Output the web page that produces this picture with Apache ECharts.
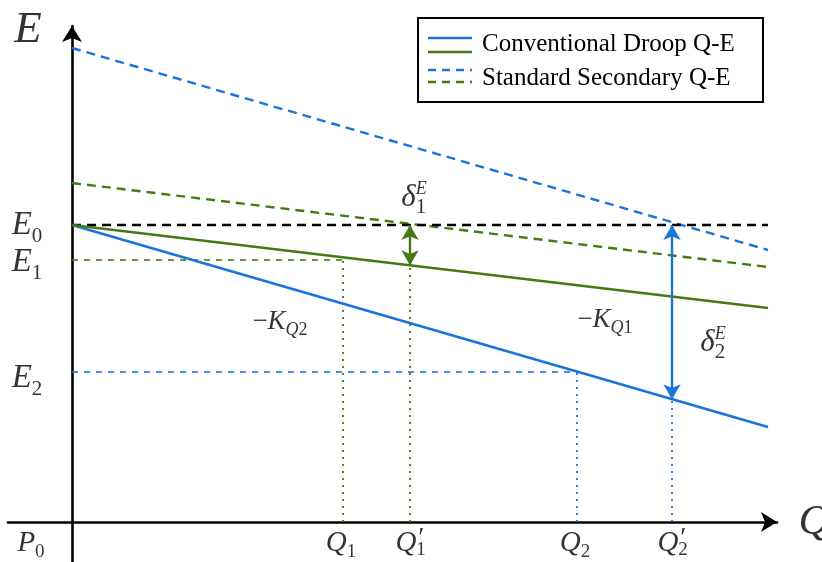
<!DOCTYPE html>
<html><head><meta charset="utf-8">
<script src="https://cdn.jsdelivr.net/npm/echarts@6/dist/echarts.min.js"></script>
<style>html,body{margin:0;padding:0;background:#fff}#c{width:822px;height:562px}</style>
</head><body><div id="c"></div>
<script>
// ---------- data (schematic units) ----------
const droopBlue  = [[0, 297], [696, 95]];
const droopGreen = [[0, 297], [696, 214]];
const secBlue    = [[0, 474], [696, 272]];
const secGreen   = [[0, 339], [696, 255]];
const e0Line     = [[0, 297], [696, 297]];
const eLevels    = [297, 262, 150];          // E0, E1, E2
const eSubs      = ['0', '1', '2'];
const qValues    = [271, 338, 505, 600];     // Q1, Q1', Q2, Q2'
const qSubs      = ['1', '1', '2', '2'];
const qPrime     = [false, true, false, true];
const legendNames = ['Conventional Droop Q-E', 'Standard Secondary Q-E'];

// ---------- helpers ----------
const BLUE = '#1c74d9', GREEN = '#437a13';
const SERIF = "'Liberation Serif', 'DejaVu Serif', serif";
function yOn(line, x) {
  const [a, b] = line;
  return a[1] + (b[1] - a[1]) * (x - a[0]) / (b[0] - a[0]);
}
function mk(F, f) {
  const L = Math.round(1.04 * F + 0.4 * f);
  return {
    m:   {fontFamily: SERIF, fontStyle: 'italic', fontSize: F, lineHeight: L, color: '#000'},
    r:   {fontFamily: SERIF, fontSize: F, lineHeight: L, color: '#000'},
    sb:  {fontFamily: SERIF, fontSize: f, lineHeight: f, verticalAlign: 'bottom', color: '#000'},
    sbi: {fontFamily: SERIF, fontStyle: 'italic', fontSize: f, lineHeight: f, verticalAlign: 'bottom', color: '#000'},
    sp:  {fontFamily: SERIF, fontStyle: 'italic', fontSize: f, lineHeight: f, verticalAlign: 'top', padding: [2, 0, 0, 0], color: '#000'},
    d:   {fontFamily: SERIF, fontSize: f, lineHeight: f, color: '#000'}
  };
}
function lab(x, y, fmt, F, f, off) {
  return {value: [x, y], label: {show: true, position: 'inside', formatter: fmt, rich: mk(F, f), offset: off || [0, 0]}};
}

// guide lines derived from the data
const q1 = qValues[0], q1p = qValues[1], q2 = qValues[2], q2p = qValues[3];
const e1Line  = [[0, eLevels[1]], [q1, eLevels[1]]];
const e2Line  = [[0, eLevels[2]], [q2, eLevels[2]]];
const q1Line  = [[q1, 0], [q1, eLevels[1]]];
const q1pLine = [[q1p, 0], [q1p, yOn(droopGreen, q1p)]];
const q2Line  = [[q2, 0], [q2, eLevels[2]]];
const q2pLine = [[q2p, 0], [q2p, yOn(droopBlue, q2p)]];

// labels
const labels = [];
labels.push(lab(-44, 492, '{m|E}', 45, 26));
labels.push(lab(742, -1, '{m|Q}', 43, 26));
const eOff = [[0, 0], [0, 2], [0, 6]];
eLevels.forEach((e, i) => labels.push(lab(-45, e, '{m|E}{sb|' + eSubs[i] + '}', 33, 21, eOff[i])));
labels.push(lab(-41, -21, '{m|P}{sb|0}', 29, 19));
qValues.forEach((q, i) => {
  if (qPrime[i]) {
    labels.push(lab(q, -21, '{m|Q}{sp|′}', 29, 28, [-1, 0]));
    labels.push(lab(q, -21, '{d|' + qSubs[i] + '}', 29, 19, [11, 7]));
  } else {
    labels.push(lab(q, -21, '{m|Q}{sb|' + qSubs[i] + '}', 29, 19, [-2, 0]));
  }
});
labels.push(lab(208, 200, '{r|−}{m|K}{sbi|Q}{sb|2}', 27, 18));
labels.push(lab(533, 202, '{r|−}{m|K}{sbi|Q}{sb|1}', 27, 18));
labels.push(lab(342, 324, '{m|δ}{sp|E}', 31, 18));
labels.push(lab(342, 324, '{d|1}', 31, 21, [7, 9]));
labels.push(lab(641, 179, '{m|δ}{sp|E}', 31, 18));
labels.push(lab(641, 179, '{d|2}', 31, 21, [7, 9]));

function lineSeries(name, data, color, width, type) {
  return {name, type: 'line', data, symbol: 'none', silent: true, animation: false,
    lineStyle: {color, width, type: type || 'solid'}, z: 3};
}
function arrowSeries(data, color) {
  return {type: 'line', data: [], silent: true, animation: false,
    markLine: {silent: true, animation: false, symbol: ['arrow', 'arrow'], symbolSize: [13, 15],
      label: {show: false}, lineStyle: {color, width: 2.4, type: 'solid'},
      data: [[{coord: data[0]}, {coord: data[1]}]]}};
}

const option = {
  backgroundColor: '#fff',
  animation: false,
  grid: {left: 8, top: 26, width: 769, height: 536},
  xAxis: {type: 'value', min: -64, max: 705, splitLine: {show: false}, axisTick: {show: false}, axisLabel: {show: false},
    axisLine: {onZero: true, symbol: ['none', 'arrow'], symbolSize: [15, 16], lineStyle: {color: '#000', width: 2.6}}},
  yAxis: {type: 'value', min: -40, max: 496, splitLine: {show: false}, axisTick: {show: false}, axisLabel: {show: false},
    axisLine: {onZero: true, symbol: ['none', 'arrow'], symbolSize: [15, 16], lineStyle: {color: '#000', width: 2.6}}},
  series: [
    lineSeries('Standard Secondary Q-E (blue)', secBlue, BLUE, 2.4, [9, 6]),
    lineSeries('Standard Secondary Q-E (green)', secGreen, GREEN, 2.4, [9, 6]),
    lineSeries('E0', e0Line, '#000', 2.4, [9, 6]),
    lineSeries('E1', e1Line, GREEN, 1.6, [6, 6]),
    lineSeries('E2', e2Line, BLUE, 1.6, [6, 6]),
    lineSeries('Q1', q1Line, GREEN, 1.8, [2, 5]),
    lineSeries("Q1'", q1pLine, GREEN, 1.8, [2, 5]),
    lineSeries('Q2', q2Line, BLUE, 1.8, [2, 5]),
    lineSeries("Q2'", q2pLine, BLUE, 1.8, [2, 5]),
    lineSeries('Conventional Droop Q-E (blue)', droopBlue, BLUE, 2.6),
    lineSeries('Conventional Droop Q-E (green)', droopGreen, GREEN, 2.6),
    arrowSeries([[q1p, eLevels[0]], [q1p, yOn(droopGreen, q1p)]], GREEN),
    arrowSeries([[q2p, eLevels[0]], [q2p, yOn(droopBlue, q2p)]], BLUE),
    {type: 'scatter', data: labels, symbolSize: 1, itemStyle: {color: 'rgba(0,0,0,0)'}, clip: false, silent: true, z: 10}
  ],
  graphic: [
    {type: 'rect', z: 100, shape: {x: 418, y: 18, width: 345, height: 84}, style: {fill: '#fff', stroke: '#000', lineWidth: 2}},
    {type: 'line', z: 101, shape: {x1: 428, y1: 38, x2: 472, y2: 38}, style: {stroke: BLUE, lineWidth: 2.5}},
    {type: 'line', z: 101, shape: {x1: 428, y1: 52, x2: 472, y2: 52}, style: {stroke: GREEN, lineWidth: 2.5}},
    {type: 'line', z: 101, shape: {x1: 428, y1: 70, x2: 472, y2: 70}, style: {stroke: BLUE, lineWidth: 2.3, lineDash: [8, 6]}},
    {type: 'line', z: 101, shape: {x1: 428, y1: 82, x2: 472, y2: 82}, style: {stroke: GREEN, lineWidth: 2.3, lineDash: [8, 6]}},
    {type: 'text', z: 101, x: 482, y: 44, style: {text: legendNames[0], font: "25px 'Liberation Serif', serif", fill: '#000', verticalAlign: 'middle'}},
    {type: 'text', z: 101, x: 482, y: 78, style: {text: legendNames[1], font: "25px 'Liberation Serif', serif", fill: '#000', verticalAlign: 'middle'}}
  ]
};
const chart = echarts.init(document.getElementById('c'));
chart.setOption(option);
</script></body></html>
